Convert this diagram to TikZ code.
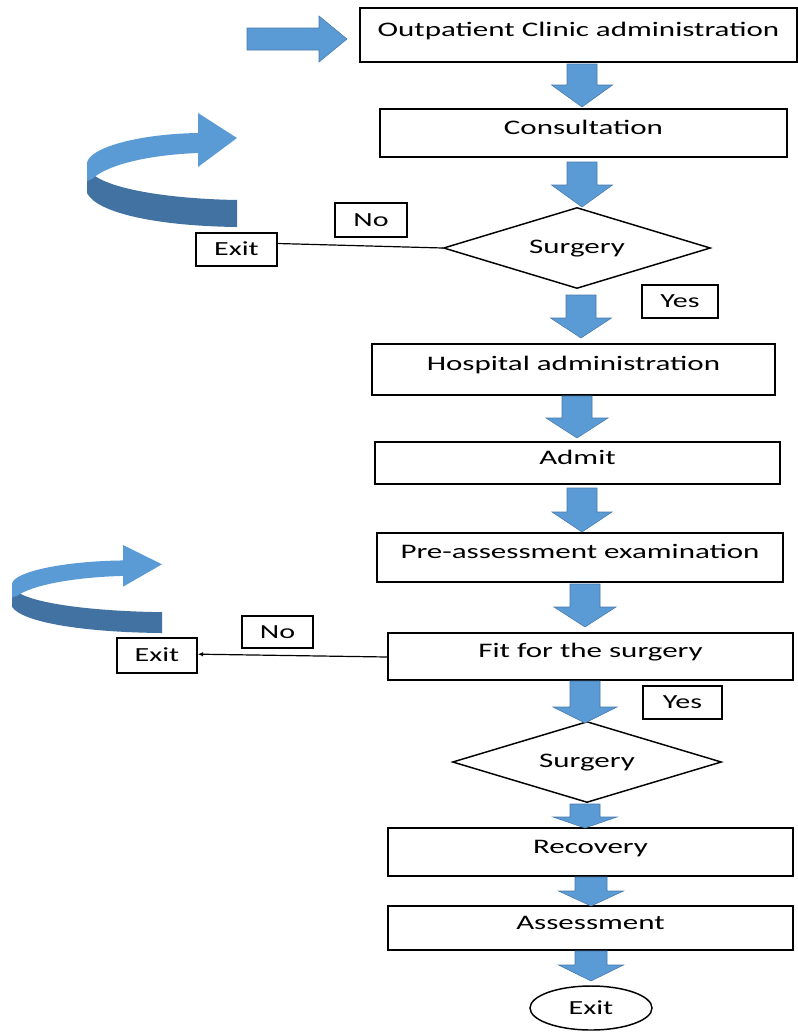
\documentclass[tikz,border=0pt]{standalone}
\usepackage{fontspec}
\setmainfont{Carlito}[FakeStretch=1.5]
\usetikzlibrary{shapes.geometric,arrows.meta}
\definecolor{ablue}{RGB}{91,155,213}
\definecolor{ablueedge}{RGB}{70,120,170}
\definecolor{adark}{RGB}{66,114,162}
\newcommand{\dnarrow}[6]{\filldraw[barrow] ({#1-#5},#2) -- ({#1+#5},#2) -- ({#1+#5},#3) -- ({#1+#6},#3) -- (#1,#4) -- ({#1-#6},#3) -- ({#1-#5},#3) -- cycle;}
\newcommand{\boxnode}[6]{\node[box, minimum width={(#4-#2)*0.75pt}, minimum height={(#5-#3)*0.75pt}] (#1) at ({(#2+#4)/2},{(#3+#5)/2}) {#6};}
\newcommand{\lblnode}[6]{\node[lbl, minimum width={(#4-#2)*0.75pt}, minimum height={(#5-#3)*0.75pt}] (#1) at ({(#2+#4)/2},{(#3+#5)/2}) {#6};}
\newcommand{\curlarrow}{%
  \fill[adark] (150,87) .. controls (90,86) and (30,78) .. (8,63) -- (0,55) -- (0,80) .. controls (10,100) and (70,113) .. (150,114) -- cycle;
  \fill[ablue] (0,50) .. controls (2,35) and (50,21) .. (111,20) -- (111,0) -- (150,25) -- (111,54) -- (111,40) .. controls (60,42) and (20,52) .. (5,66) -- (0,68) -- cycle;
}
\begin{document}
\begin{tikzpicture}[x=0.75pt,y=-0.75pt,
  box/.style={draw, line width=1.3pt, inner sep=0pt, font=\fontsize{15.5}{18}\selectfont, text height=8pt, text depth=6.5pt},
  lbl/.style={draw, line width=1.2pt, inner sep=0pt, font=\fontsize{15}{18}\selectfont, text height=9pt, text depth=0pt},
  dec/.style={draw, shape=diamond, aspect=3.3, line width=1.1pt, inner sep=0pt, font=\fontsize{15.5}{18}\selectfont, text height=9pt, text depth=1.5pt},
  barrow/.style={fill=ablue, draw=ablueedge, line width=0.4pt},
  conn/.style={draw, line width=0.9pt}]
\useasboundingbox (0,0) rectangle (798,1032);

% process boxes
\boxnode{b1}{360}{8}{797}{62}{Outpatient Clinic administration}
\boxnode{b2}{380}{109}{787}{157}{Consultation}
\node[dec, minimum width=200.25pt, minimum height=60.75pt] (d1) at (577,248) {Surgery};
\boxnode{b3}{372}{344}{775}{395}{Hospital administration}
\boxnode{b4}{375}{442}{780}{484}{Admit}
\boxnode{b5}{377}{533}{783}{582}{Pre-assessment examination}
\boxnode{b6}{388}{633}{793}{680}{Fit for the surgery}
\node[dec, minimum width=201.75pt, minimum height=60.75pt] (d2) at (587,762) {Surgery};
\boxnode{b7}{388}{828}{793}{876}{Recovery}
\boxnode{b8}{388}{906}{793}{950}{Assessment}
\node[draw, shape=ellipse, line width=1.1pt, inner sep=0pt, minimum width=91.5pt, minimum height=33pt, font=\fontsize{15}{18}\selectfont, text height=9pt, text depth=0pt] (ex3) at (591,1008) {Exit};

% label boxes
\lblnode{no1}{335}{203}{407}{237}{No}
\lblnode{ex1}{196}{233}{277}{266}{Exit}
\lblnode{yes1}{642}{285}{718}{318}{Yes}
\lblnode{no2}{242}{616}{313}{648}{No}
\lblnode{ex2}{117}{638}{197}{673}{Exit}
\lblnode{yes2}{643}{686}{722}{719}{Yes}

% connectors
\draw[conn] (d1.west) -- ([yshift=4.5pt]ex1.east);
\draw[conn, -{Latex[length=4pt,width=3.5pt]}] (b6.west |- 0,657) -- ([yshift=1pt]ex2.east);

% block arrows
\filldraw[barrow] (247,28) -- (319,28) -- (319,16) -- (347,39) -- (319,62) -- (319,50) -- (247,50) -- cycle;
\dnarrow{582}{64}{85}{107}{15}{30.5}
\dnarrow{582}{162}{185}{207}{15}{30.5}
\dnarrow{581}{295}{318}{338}{15}{30.5}
\dnarrow{577}{396}{418}{438}{15}{31}
\dnarrow{582}{488}{512}{532}{15}{30}
\dnarrow{585}{584}{607}{627}{15}{31}
\dnarrow{585}{681}{707}{723}{15}{32}
\dnarrow{585}{804}{817}{828}{15}{32}
\dnarrow{591}{877}{891}{906}{16}{32.5}
\dnarrow{591}{951}{965}{981}{16}{32.5}

% curved arrows
\begin{scope}[shift={(87,113)}]
\curlarrow
\end{scope}
\begin{scope}[shift={(12,545)}, yscale=0.772]
\curlarrow
\end{scope}
\end{tikzpicture}
\end{document}
